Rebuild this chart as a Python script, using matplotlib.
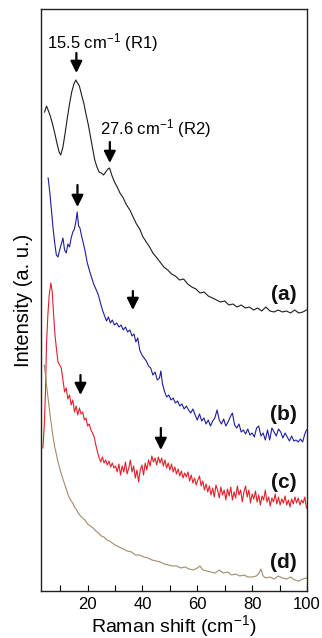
import matplotlib
matplotlib.use("Agg")
import matplotlib.pyplot as plt
from matplotlib.ticker import MultipleLocator, NullLocator

plt.rcParams['font.family'] = ['Liberation Sans', 'DejaVu Sans']
plt.rcParams['mathtext.fontset'] = 'custom'
plt.rcParams['mathtext.rm'] = 'Liberation Sans'
plt.rcParams['mathtext.it'] = 'Liberation Sans:italic'

TOP = 591  # helper to convert read-off values (measured downward) to intensity

# ---------------- data (a) ----------------
xa = [4.3, 5.0, 5.6, 6.4, 7.2, 8.0, 8.8, 9.6, 10.2, 11.0, 11.8, 12.6, 13.4, 14.2, 15.0, 15.7,
      16.3, 17.0, 17.8, 18.6, 19.4, 20.2, 21.0, 21.8, 22.6, 23.4, 24.2, 25.0, 25.8, 26.6, 27.4,
      28.0, 28.8, 29.8, 30.8, 31.8, 33.0, 34.2, 35.4, 36.6, 37.8, 39.0, 40.2, 41.4, 42.6, 43.8,
      45.0, 46.4, 47.8, 49.2, 50.6, 52.0, 53.5, 55.0, 56.5, 58.0, 59.5, 61.0, 62.5, 64.0, 65.5,
      67.0, 68.5, 70.0, 71.5, 73.0, 74.5, 76.0, 77.5, 79.0, 80.5, 82.0, 83.5, 85.0, 86.5, 88.0,
      89.5, 91.0, 92.5, 94.0, 95.5, 97.0, 98.5, 99.8]
da = [112, 106, 110, 116, 124, 133, 143, 152, 155, 147, 133, 118, 104, 92, 84, 80,
      83, 86, 95, 103, 114, 124, 136, 148, 160, 167, 172, 173, 175, 172, 169,
      168, 175, 182, 187, 193, 198, 205, 210, 217, 224, 229, 237, 242, 247, 253,
      257, 262, 267, 270, 274, 276, 280, 279, 284, 287, 289, 293, 292, 296, 298,
      300, 302, 301, 305, 304, 307, 305, 308, 307, 310, 308, 311, 307, 311, 312,
      310, 312, 311, 313, 310, 313, 312, 310]

# ---------------- data (b) ----------------
xb = [5.6, 6.2, 6.8, 7.4, 8.0, 8.6, 9.2, 9.8, 10.4, 11.0, 11.6, 12.2, 12.8, 13.4, 14.0, 14.6,
      15.2, 15.7, 16.2, 16.7, 17.2, 17.8, 18.4, 19.0, 19.8, 20.6, 21.4, 22.2, 23.0, 23.8, 24.6,
      25.4, 26.2, 26.9, 27.6, 28.3, 29.0, 29.8, 30.6, 31.4, 32.2, 33.0, 33.8, 34.6, 35.4, 36.2,
      36.9, 37.6, 38.3, 39.0, 39.8, 40.6, 41.4, 42.2, 43.0, 43.8, 44.6, 45.4, 46.2, 46.7, 47.3,
      48.0, 48.8, 49.6, 50.4, 51.2, 52.0, 52.8, 53.6, 54.4, 55.2, 56.0, 56.8, 57.6, 58.4, 59.2,
      60.0, 60.8, 61.6, 62.4, 63.2, 64.0, 64.8, 65.6, 66.4, 67.2, 68.0, 68.8, 69.6, 70.4, 71.2,
      72.0, 72.8, 73.6, 74.4, 75.2, 76.0, 76.8, 77.6, 78.4, 79.2, 80.0, 80.8, 81.6, 82.4, 83.2,
      84.0, 84.8, 85.6, 86.4, 87.2, 88.0, 88.8, 89.6, 90.4, 91.2, 92.0, 92.8, 93.6, 94.4, 95.2,
      96.0, 96.8, 97.6, 98.4, 99.2, 99.8]
db = [178, 192, 210, 228, 243, 255, 257, 250, 244, 238, 250, 253, 244, 247, 238, 232,
      229, 222, 212, 226, 228, 236, 243, 250, 262, 270, 277, 284, 289, 294, 302,
      310, 316, 321, 317, 323, 320, 325, 323, 327, 325, 330, 327, 332, 330, 336,
      334, 342, 338, 350, 355, 358, 361, 366, 368, 375, 372, 380, 378, 371, 384,
      391, 397, 395, 400, 398, 403, 401, 406, 404, 409, 406, 410, 413, 409, 415,
      420, 414, 421, 418, 424, 420, 426, 421, 418, 410, 420, 424, 419, 426, 422,
      417, 413, 425, 428, 424, 432, 430, 434, 429, 435, 433, 437, 428, 426, 436,
      433, 440, 430, 440, 428, 432, 436, 429, 432, 438, 433, 437, 441, 436, 441,
      440, 442, 439, 442, 434, 430]

# ---------------- data (c) ----------------
xc = [3.7, 4.2, 4.6, 5.0, 5.5, 6.0, 6.6, 7.1, 7.6, 8.1, 8.6, 9.2, 9.8, 10.4, 11.0, 11.6,
      12.2, 12.8, 13.4, 14.0, 14.6, 15.2, 15.8, 16.4, 17.0, 17.6, 18.2, 18.8, 19.4, 20.0, 20.6,
      21.2, 21.8, 22.4, 23.0, 23.6, 24.2, 24.8, 25.4, 26.0, 26.6, 27.2, 27.8, 28.4, 29.0, 29.6,
      30.2, 30.8, 31.4, 32.0, 32.6, 33.2, 33.8, 34.4, 35.0, 35.6, 36.2, 36.8, 37.4, 38.0, 38.6,
      39.2, 39.8, 40.4, 41.0, 41.6, 42.2, 42.8, 43.4, 44.0, 44.6, 45.2, 45.8, 46.4, 47.0, 47.6,
      48.2, 48.8, 49.4, 50.0, 50.6, 51.2, 51.8, 52.4, 53.0, 53.6, 54.2, 54.8, 55.4, 56.0, 56.6,
      57.2, 57.8, 58.4, 59.0, 59.6, 60.2, 60.8, 61.4, 62.0, 62.6, 63.2, 63.8, 64.4, 65.0, 65.6,
      66.2, 66.8, 67.4, 68.0, 68.6, 69.2, 69.8, 70.4, 71.0, 71.6, 72.2, 72.8, 73.4, 74.0, 74.6,
      75.2, 75.8, 76.4, 77.0, 77.6, 78.2, 78.8, 79.4, 80.0, 80.6, 81.2, 81.8, 82.4, 83.0, 83.6,
      84.2, 84.8, 85.4, 86.0, 86.6, 87.2, 87.8, 88.4, 89.0, 89.6, 90.2, 90.8, 91.4, 92.0, 92.6,
      93.2, 93.8, 94.4, 95.0, 95.6, 96.2, 96.8, 97.4, 98.0, 98.6, 99.2, 99.8]
dc = [448, 425, 395, 345, 315, 295, 283, 292, 315, 335, 348, 362, 365, 368, 380, 392,
      388, 399, 395, 405, 400, 412, 406, 415, 408, 414, 412, 420, 418, 426, 424,
      430, 433, 437, 445, 452, 458, 462, 457, 463, 460, 465, 461, 467, 463, 468,
      466, 472, 464, 475, 466, 472, 462, 474, 468, 460, 472, 466, 478, 470, 482,
      470, 465, 475, 463, 470, 460, 466, 456, 462, 458, 465, 457, 463, 458, 466,
      460, 468, 463, 470, 464, 472, 467, 474, 469, 476, 471, 478, 473, 477, 472,
      481, 475, 483, 478, 485, 480, 476, 486, 481, 490, 484, 492, 486, 495, 488,
      497, 485, 490, 498, 487, 495, 490, 500, 489, 496, 487, 500, 492, 498, 486,
      495, 490, 502, 492, 486, 497, 490, 503, 494, 499, 491, 502, 495, 505, 496,
      500, 490, 502, 497, 506, 498, 502, 494, 504, 497, 505, 499, 503, 496, 505,
      500, 507, 499, 504, 497, 503, 498, 505, 500, 503, 497, 508]

# ---------------- data (d) ----------------
xd = [4.2, 4.5, 4.9, 5.3, 5.8, 6.3, 6.8, 7.4, 8.0, 8.6, 9.2, 9.8, 10.4, 11.0, 11.6,
      12.2, 12.8, 13.4, 14.0, 14.6, 15.2, 15.8, 16.6, 17.4, 18.2, 19.0, 20.0, 21.0, 22.0, 23.0,
      24.0, 25.0, 26.0, 27.0, 28.0, 29.0, 30.0, 31.5, 33.0, 34.5, 36.0, 37.5, 39.0, 40.5, 42.0,
      43.5, 45.0, 46.5, 48.0, 49.5, 51.0, 52.5, 54.0, 55.5, 57.0, 58.5, 60.0, 61.0, 62.0, 63.5,
      65.0, 66.5, 68.0, 69.5, 71.0, 72.5, 74.0, 75.5, 77.0, 78.5, 80.0, 81.5, 82.5, 83.2, 84.0,
      85.0, 86.5, 88.0, 89.5, 91.0, 92.5, 94.0, 95.5, 97.0, 98.5, 99.8]
dd = [365, 372, 382, 392, 403, 415, 425, 437, 447, 454, 462, 468, 474, 479, 484,
      489, 494, 498, 501, 503, 507, 509, 513, 516, 518, 520, 524, 526, 528, 531,
      533, 536, 537, 540, 541, 543, 545, 547, 549, 551, 552, 555, 555, 557, 558,
      560, 561, 562, 564, 565, 566, 566, 568, 567, 569, 570, 568, 566, 570, 571,
      572, 573, 570, 573, 572, 575, 574, 576, 575, 577, 577, 576, 573, 569, 576,
      578, 577, 579, 576, 578, 579, 577, 580, 581, 579, 578]

series = [
    (xa, da, '#1c1c1c', '(a)', 296),
    (xb, db, '#1c1ca0', '(b)', 176),
    (xc, dc, '#e0202a', '(c)', 108),
    (xd, dd, '#a38a6a', '(d)', 28),
]

# arrows: x, y_start, y_end
arrows = [(15.9, 538, 518), (28.1, 449, 428), (16.3, 406, 384),
          (36.5, 300, 281), (17.4, 216, 196), (46.7, 163, 141)]

xticks = [20, 40, 60, 80, 100]

fig = plt.figure(figsize=(3.22, 6.38), dpi=100)
ax = fig.add_axes([41/322, 47/638, 266/322, 582/638])

for xs, ds, col, lab, ly in series:
    ax.plot(xs, [TOP - v for v in ds], color=col, lw=0.8)
    ax.text(91.5, ly, lab, fontsize=15, fontweight='bold', ha='center', va='center',
            color='#111111')

for x, y0, y1 in arrows:
    ax.annotate('', xy=(x, y1), xytext=(x, y0),
                arrowprops=dict(arrowstyle='-|>,head_width=0.35,head_length=0.7',
                                color='black', lw=1.6, shrinkA=0, shrinkB=0))

ax.text(25.5, 548, '15.5 cm$^{-1}$ (R1)', fontsize=12, ha='center', va='center')
ax.text(44.9, 462, '27.6 cm$^{-1}$ (R2)', fontsize=12, ha='center', va='center')

ax.set_xlim(3, 100)
ax.set_ylim(0, 582)
ax.set_xticks(xticks)
ax.xaxis.set_minor_locator(MultipleLocator(10))
ax.yaxis.set_major_locator(NullLocator())
ax.tick_params(axis='x', which='both', direction='in', length=4, width=0.8,
               labelsize=12, pad=4)
for s in ax.spines.values():
    s.set_linewidth(1.0)
    s.set_color('#222222')

ax.set_xlabel('Raman shift (cm$^{-1}$)', fontsize=14, labelpad=1)
ax.set_ylabel('Intensity (a. u.)', fontsize=14.5, labelpad=6)

fig.savefig('out.png', dpi=100)
